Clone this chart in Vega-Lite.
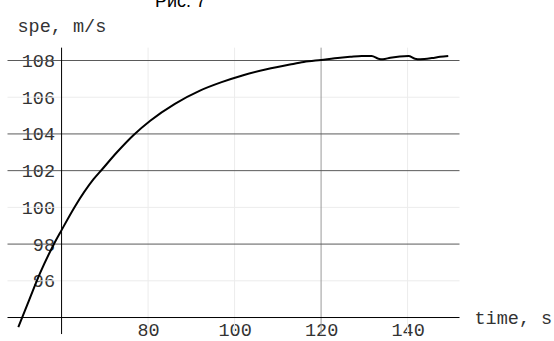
{
  "$schema": "https://vega.github.io/schema/vega-lite/v6.json",
  "width": 452,
  "height": 286.4,
  "autosize": "none",
  "padding": {"left": 7.5, "top": 47.65, "right": 94.5, "bottom": 6.95},
  "background": "white",
  "config": {"view": {"stroke": null}, "font": "Liberation Mono"},
  "title": {"text": "Рис. 7", "font": "Liberation Sans", "fontSize": 18, "fontWeight": "normal", "anchor": "start", "frame": "group", "dx": 147.5, "offset": 5, "color": "black"},
  "datasets": {
    "curve": [
      {"t": 50, "v": 93.48}, {"t": 52.5, "v": 94.95}, {"t": 55, "v": 96.4}, {"t": 58.1, "v": 97.94},
      {"t": 60, "v": 98.76}, {"t": 63.1, "v": 100.05}, {"t": 67.35, "v": 101.52}, {"t": 69.3, "v": 102.05},
      {"t": 72.8, "v": 103.0}, {"t": 76.6, "v": 103.93}, {"t": 80.5, "v": 104.72}, {"t": 86.2, "v": 105.64},
      {"t": 92, "v": 106.36}, {"t": 97, "v": 106.82}, {"t": 102, "v": 107.2}, {"t": 107.4, "v": 107.52},
      {"t": 112.8, "v": 107.78}, {"t": 116, "v": 107.92}, {"t": 120, "v": 108.03}, {"t": 124.4, "v": 108.15},
      {"t": 126.7, "v": 108.2}, {"t": 129.4, "v": 108.25}, {"t": 131.7, "v": 108.25}, {"t": 133.25, "v": 108.1},
      {"t": 134.3, "v": 108.07}, {"t": 136, "v": 108.15}, {"t": 140.2, "v": 108.24}, {"t": 141.7, "v": 108.1},
      {"t": 142.9, "v": 108.07}, {"t": 145.6, "v": 108.13}, {"t": 147.5, "v": 108.2}, {"t": 149.4, "v": 108.25}
    ],
    "hgrid": [{"v": 96}, {"v": 100}, {"v": 106}],
    "vgrid": [{"t": 80}, {"t": 100}, {"t": 140}],
    "hlines": [{"v": 98}, {"v": 102}, {"v": 104}, {"v": 108}],
    "vlines": [{"t": 120}],
    "xaxis": [{"v": 94}],
    "yaxis": [{"t": 60}],
    "xmajor": [{"t": 80}, {"t": 100}, {"t": 120}, {"t": 140}],
    "xminor": [{"t": 50}, {"t": 55}, {"t": 65}, {"t": 70}, {"t": 75}, {"t": 85}, {"t": 90}, {"t": 95}, {"t": 105}, {"t": 110}, {"t": 115}, {"t": 125}, {"t": 130}, {"t": 135}, {"t": 145}, {"t": 150}],
    "ymajor": [{"v": 96}, {"v": 98}, {"v": 100}, {"v": 102}, {"v": 104}, {"v": 106}, {"v": 108}],
    "yminor": [{"v": 93.5}, {"v": 94.5}, {"v": 95}, {"v": 95.5}, {"v": 96.5}, {"v": 97}, {"v": 97.5}, {"v": 98.5}, {"v": 99}, {"v": 99.5}, {"v": 100.5}, {"v": 101}, {"v": 101.5}, {"v": 102.5}, {"v": 103}, {"v": 103.5}, {"v": 104.5}, {"v": 105}, {"v": 105.5}, {"v": 106.5}, {"v": 107}, {"v": 107.5}, {"v": 108.5}]
  },
  "encoding": {
    "x": {
      "field": "t", "type": "quantitative",
      "scale": {"domain": [47.5, 152], "nice": false, "zero": false},
      "axis": {
        "values": [80, 100, 120, 140], "offset": -16.52, "domain": false, "ticks": false, "grid": false,
        "labelFont": "Liberation Mono", "labelFontSize": 18.5, "labelColor": "#333333", "labelPadding": 3,
        "labelFlush": false, "labelOverlap": false,
        "title": "time, s", "titleFont": "Liberation Mono", "titleFontSize": 18.5, "titleFontWeight": "normal",
        "titleColor": "#333333", "titleAngle": 0, "titleAlign": "left", "titleBaseline": "alphabetic",
        "titleX": 466.5, "titleY": 5.5
      }
    },
    "y": {
      "field": "v", "type": "quantitative",
      "scale": {"domain": [93.1, 108.7], "nice": false, "zero": false},
      "axis": {
        "values": [96, 98, 100, 102, 104, 106, 108], "offset": -54.07, "domain": false, "ticks": false, "grid": false,
        "labelFont": "Liberation Mono", "labelFontSize": 18.5, "labelColor": "#333333", "labelPadding": 7,
        "labelFlush": false, "labelOverlap": false,
        "title": "spe, m/s", "titleFont": "Liberation Mono", "titleFontSize": 18.5, "titleFontWeight": "normal",
        "titleColor": "#333333", "titleAngle": 0, "titleAlign": "left", "titleBaseline": "middle",
        "titleX": -44.57, "titleY": -22.65
      }
    }
  },
  "layer": [
    {
      "data": {"name": "hgrid"},
      "mark": {"type": "rule", "color": "#ececec", "strokeWidth": 1},
      "encoding": {"x": null}
    },
    {
      "data": {"name": "vgrid"},
      "mark": {"type": "rule", "color": "#ececec", "strokeWidth": 1},
      "encoding": {"y": null}
    },
    {
      "data": {"name": "vlines"},
      "mark": {"type": "rule", "color": "#9a9a9a", "strokeWidth": 1},
      "encoding": {"y": null}
    },
    {
      "data": {"name": "hlines"},
      "mark": {"type": "rule", "color": "#5a5a5a", "strokeWidth": 1},
      "encoding": {"x": null}
    },
    {
      "data": {"name": "xaxis"},
      "mark": {"type": "rule", "color": "#000000", "strokeWidth": 1},
      "encoding": {"x": null}
    },
    {
      "data": {"name": "yaxis"},
      "mark": {"type": "rule", "color": "#000000", "strokeWidth": 1},
      "encoding": {"y": null}
    },
    {
      "data": {"name": "xmajor"},
      "mark": {"type": "rule", "color": "#333333", "strokeWidth": 1},
      "encoding": {"y": {"datum": 94, "type": "quantitative"}, "y2": {"datum": 94.27}}
    },
    {
      "data": {"name": "xminor"},
      "mark": {"type": "rule", "color": "#333333", "strokeWidth": 1},
      "encoding": {"y": {"datum": 94, "type": "quantitative"}, "y2": {"datum": 94.16}}
    },
    {
      "data": {"name": "ymajor"},
      "mark": {"type": "rule", "color": "#333333", "strokeWidth": 1},
      "encoding": {"x": {"datum": 60, "type": "quantitative"}, "x2": {"datum": 61.16}}
    },
    {
      "data": {"name": "yminor"},
      "mark": {"type": "rule", "color": "#333333", "strokeWidth": 1},
      "encoding": {"x": {"datum": 60, "type": "quantitative"}, "x2": {"datum": 60.7}}
    },
    {
      "data": {"name": "curve"},
      "mark": {"type": "line", "color": "#000000", "strokeWidth": 2, "interpolate": "monotone"}
    }
  ]
}
